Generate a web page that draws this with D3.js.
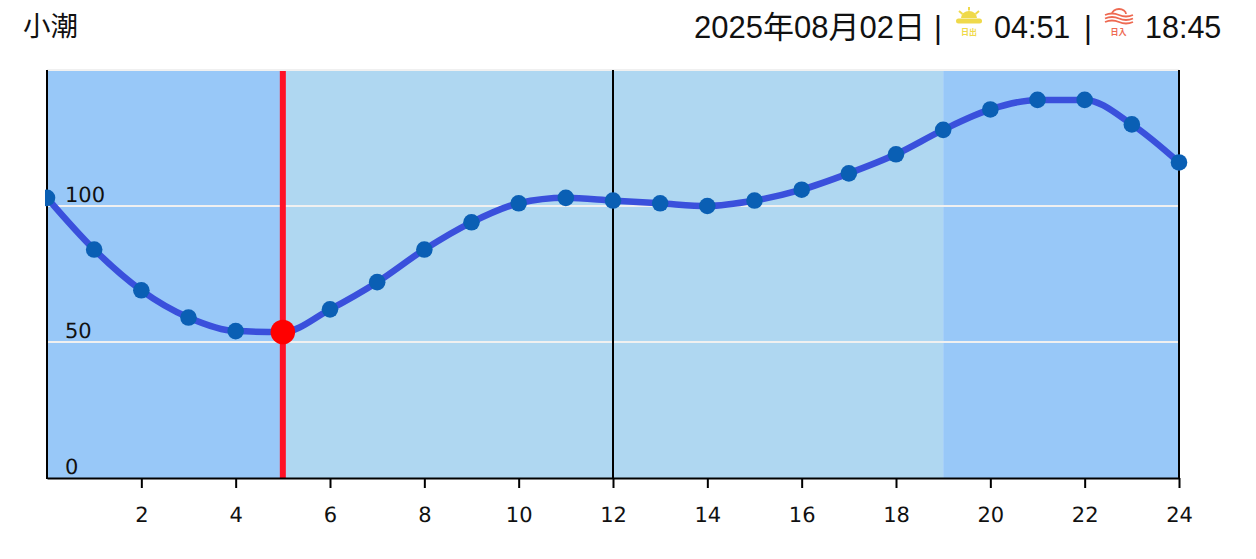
<!DOCTYPE html>
<html lang="ja">
<head>
  <meta charset="UTF-8">
  <title>小潮</title>
  <style>
    html, body { margin: 0; padding: 0; background: #fff; overflow: hidden; }
    .hdr { font-family: "Liberation Sans", "Noto Sans CJK JP", sans-serif; font-size: 30.5px; fill: #111; }
    .axis text { font-family: "DejaVu Sans", sans-serif; font-size: 21px; fill: #111; text-rendering: geometricPrecision; }
  </style>
</head>
<body>
<div id="chart"></div>
<script src="https://d3js.org/d3.v7.min.js"></script>
<script>
  // DATA ======================================================================
  const hours = [0, 1, 2, 3, 4, 5, 6, 7, 8, 9, 10, 11, 12, 13, 14, 15, 16, 17, 18, 19, 20, 21, 22, 23, 24];
  const tide = [103, 84, 69, 59, 54, 53.7, 62, 72, 84, 94, 101, 103, 102, 101, 100, 102, 106, 112, 119, 128, 135.5, 139, 139, 130, 116];
  const xTicks = [2, 4, 6, 8, 10, 12, 14, 16, 18, 20, 22, 24];
  const yTicks = [0, 50, 100];
  const bands = [[0, 5, "#98c8f8"], [5, 19, "#afd7f1"], [19, 24, "#98c8f8"]];
  const nowHour = 5;
  const noonHour = 12;
  const tideName = "小潮";
  const dateLabel = "2025年08月02日";
  const sunrise = "04:51";
  const sunset = "18:45";

  // PLOT AREA =================================================================
  const width = 1256, height = 559;
  const svg = d3.select("#chart").append("svg")
      .attr("width", width).attr("height", height)
      .style("display", "block");

  const x = d3.scaleLinear().domain([0, 24]).range([47, 1179]);
  const y = d3.scaleLinear().domain([0, 150]).range([478, 70]);

  // background bands
  svg.append("g").selectAll("rect")
    .data(bands)
    .join("rect")
      .attr("x", d => x(d[0]))
      .attr("width", d => x(d[1]) - x(d[0]))
      .attr("y", y(150))
      .attr("height", y(0) - y(150))
      .attr("fill", d => d[2]);

  // top border + grid lines
  svg.append("g").selectAll("line")
    .data([50, 100, 150])
    .join("line")
      .attr("x1", x(0)).attr("x2", x(24))
      .attr("y1", d => y(d)).attr("y2", d => y(d))
      .attr("stroke", "#f0f0f0").attr("stroke-width", 2);

  // red now line, noon line
  svg.append("line")
    .attr("x1", x(nowHour)).attr("x2", x(nowHour))
    .attr("y1", y(150) + 1).attr("y2", y(0))
    .attr("stroke", "#ff1226").attr("stroke-width", 6);
  svg.append("line")
    .attr("x1", x(noonHour)).attr("x2", x(noonHour))
    .attr("y1", y(150)).attr("y2", y(0))
    .attr("stroke", "#000").attr("stroke-width", 2);

  // AXES ======================================================================
  const xAxis = svg.append("g")
      .attr("class", "axis")
      .attr("transform", `translate(0,${y(0)})`)
      .call(d3.axisBottom(x).tickValues(xTicks).tickSize(10).tickPadding(19).tickSizeOuter(0));
  xAxis.selectAll("line").attr("stroke", "#000").attr("stroke-width", 2);
  xAxis.select(".domain").attr("stroke", "#000").attr("stroke-width", 2);

  svg.append("line").attr("x1", x(0)).attr("x2", x(0)).attr("y1", y(150)).attr("y2", y(0) + 1)
    .attr("stroke", "#000").attr("stroke-width", 2);
  svg.append("line").attr("x1", x(24)).attr("x2", x(24)).attr("y1", y(150)).attr("y2", y(0) + 1)
    .attr("stroke", "#000").attr("stroke-width", 2);

  const yAxis = svg.append("g")
      .attr("class", "axis")
      .attr("transform", `translate(${x(0)},0)`)
      .call(d3.axisRight(y).tickValues(yTicks).tickSize(0).tickPadding(18));
  yAxis.select(".domain").remove();
  yAxis.selectAll("text").attr("dy", "-0.22em");

  // TIDE LINE =================================================================
  svg.append("clipPath").attr("id", "plot-clip")
    .append("rect").attr("x", x(0) - 2).attr("y", 60).attr("width", x(24) - x(0) + 16).attr("height", 430);

  const tideLine = d3.line()
    .x((d, i) => x(hours[i]))
    .y(d => y(d))
    .curve(d3.curveMonotoneX);

  const plot = svg.append("g").attr("clip-path", "url(#plot-clip)");
  plot.append("path")
    .datum(tide)
    .attr("d", tideLine)
    .attr("fill", "none")
    .attr("stroke", "#3a50dc")
    .attr("stroke-width", 6.5);
  plot.selectAll("circle")
    .data(tide)
    .join("circle")
      .attr("cx", (d, i) => x(hours[i]))
      .attr("cy", d => y(d))
      .attr("r", 8.3)
      .attr("fill", "#0a5fb4");

  svg.append("circle")
    .attr("cx", x(nowHour))
    .attr("cy", y(tide[hours.indexOf(nowHour)]))
    .attr("r", 12.3)
    .attr("fill", "#ff0000");

  // HEADER ====================================================================
  const hdrY = 38;
  svg.append("text").attr("class", "hdr").style("font-size", "27.5px").attr("x", 23).attr("y", 36).text(tideName);
  svg.append("text").attr("class", "hdr").style("font-size", "31px").attr("x", 694).attr("y", hdrY).text(dateLabel);
  svg.append("text").attr("class", "hdr").attr("x", 934).attr("y", hdrY).text("|");
  svg.append("text").attr("class", "hdr").attr("x", 994).attr("y", hdrY).text(sunrise);
  svg.append("text").attr("class", "hdr").attr("x", 1084).attr("y", hdrY).text("|");
  svg.append("text").attr("class", "hdr").attr("x", 1145).attr("y", hdrY).text(sunset);

  // sunrise icon
  const yellow = "#efd94a";
  const rise = svg.append("g").attr("transform", "translate(969,0)");
  rise.append("path").attr("d", "M-8,18 A8,7 0 0 1 8,18 Z").attr("fill", yellow);
  rise.append("rect").attr("x", -13).attr("y", 18.5).attr("width", 26).attr("height", 5).attr("rx", 2.5).attr("fill", yellow);
  rise.selectAll("line")
    .data([[0, 7, 0, 10.5], [-10, 11, -6.5, 14], [10, 11, 6.5, 14]])
    .join("line")
      .attr("x1", d => d[0]).attr("y1", d => d[1])
      .attr("x2", d => d[2]).attr("y2", d => d[3])
      .attr("stroke", yellow).attr("stroke-width", 2);
  rise.append("text").attr("x", 0).attr("y", 35).attr("text-anchor", "middle")
    .attr("font-family", "Noto Sans CJK JP").attr("font-size", 8).attr("font-weight", 700)
    .attr("fill", yellow).text("日出");

  // sunset icon
  const red = "#ee6a52";
  const set = svg.append("g").attr("transform", "translate(1119,0)");
  set.append("path").attr("d", "M-7,14 A7,5 0 0 1 7,14").attr("fill", "none").attr("stroke", red).attr("stroke-width", 1.8);
  set.selectAll("path.wave")
    .data([15, 18.5, 22])
    .join("path")
      .attr("class", "wave")
      .attr("d", d => `M-14,${d} Q-7,${d - 3} 0,${d} T14,${d}`)
      .attr("fill", "none").attr("stroke", red).attr("stroke-width", 1.8);
  set.append("text").attr("x", -0.5).attr("y", 35).attr("text-anchor", "middle")
    .attr("font-family", "Noto Sans CJK JP").attr("font-size", 8).attr("font-weight", 700)
    .attr("fill", red).text("日入");
</script>
</body>
</html>
